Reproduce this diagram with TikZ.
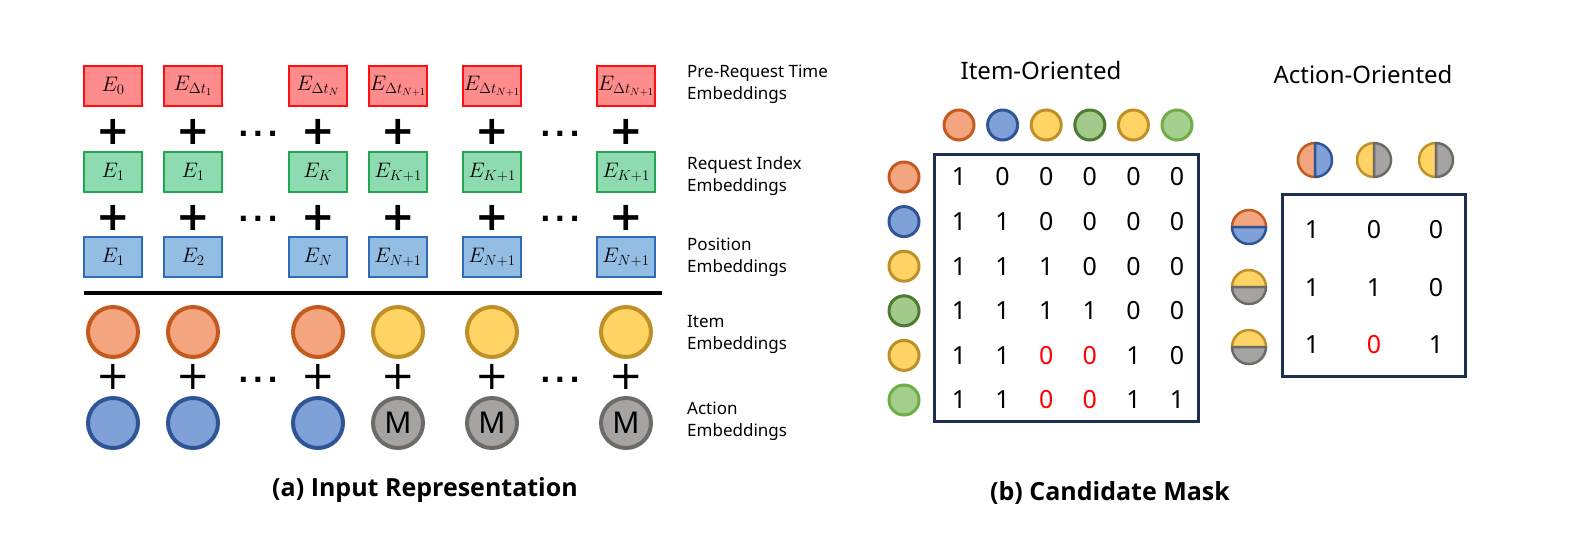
\RequirePackage{fix-cm}
\documentclass[tikz,border=0pt]{standalone}
\usepackage{fontspec}
\setmainfont{Noto Sans}
\newfontfamily\djv{DejaVu Sans}
\newfontfamily\osans{Open Sans}
\definecolor{rF}{HTML}{FF8C8C}
\definecolor{rD}{HTML}{FF1010}
\definecolor{gF}{HTML}{8FDBB1}
\definecolor{gD}{HTML}{22A652}
\definecolor{bF}{HTML}{93BDE2}
\definecolor{bD}{HTML}{2E6DB4}
\definecolor{orF}{HTML}{F2A57E}
\definecolor{orD}{HTML}{C55A1F}
\definecolor{blF}{HTML}{7FA1D7}
\definecolor{blD}{HTML}{2F5597}
\definecolor{yeF}{HTML}{FFD464}
\definecolor{yeD}{HTML}{BF9028}
\definecolor{dgF}{HTML}{A2CA8B}
\definecolor{dgD}{HTML}{4F7A33}
\definecolor{lgF}{HTML}{A6CE8C}
\definecolor{lgD}{HTML}{70AD47}
\definecolor{grF}{HTML}{A6A3A3}
\definecolor{grD}{HTML}{6E6A6A}
\definecolor{navy}{HTML}{1F2F4F}
\definecolor{mred}{HTML}{FF0000}
\begin{document}
\begin{tikzpicture}[x=1pt,y=-1pt,
  ebox/.style={line width=2pt, minimum width=58pt, minimum height=40pt, inner sep=0pt, font=\fontsize{21}{21}\selectfont},
  rbox/.style={ebox, draw=rD, fill=rF},
  gbox/.style={ebox, draw=gD, fill=gF},
  bbox/.style={ebox, draw=bD, fill=bF},
  plusA/.style={inner sep=0pt, font=\djv\bfseries\fontsize{40}{40}\selectfont},
  plusB/.style={inner sep=0pt, font=\djv\fontsize{40}{40}\selectfont},
  dotn/.style={inner sep=0pt, font=\djv\bfseries\fontsize{28}{28}\selectfont},
  bigc/.style={circle, minimum size=50pt, inner sep=0pt, line width=4pt, font=\fontsize{30}{30}\selectfont},
  smallc/.style={circle, minimum size=30pt, inner sep=0pt, line width=3pt},
  halfl/.style={line width=2.5pt, line join=round},
  lab/.style={anchor=west, align=left, inner sep=0pt, font=\fontsize{17}{22}\selectfont},
  ttl/.style={inner sep=0pt, font=\osans\bfseries\fontsize{25}{25}\selectfont},
  subttl/.style={inner sep=0pt, font=\fontsize{24}{24}\selectfont},
  mval/.style={inner sep=0pt, font=\fontsize{25}{25}\selectfont},
  mbox/.style={draw=navy, line width=3pt, inner sep=0pt}
]
\useasboundingbox (0,0) rectangle (1578,544);

% ---------- (a) Input representation ----------
\foreach \i/\x/\labR/\labG/\labB in {
 1/113/{E_0}/{E_1}/{E_1},
 2/193/{E_{\Delta t_1}}/{E_1}/{E_2},
 3/318/{E_{\Delta t_N}}/{E_K}/{E_N},
 4/398/{E_{\Delta t_{N+1}}}/{E_{K+1}}/{E_{N+1}},
 5/492/{E_{\Delta t_{N+1}}}/{E_{K+1}}/{E_{N+1}},
 6/626/{E_{\Delta t_{N+1}}}/{E_{K+1}}/{E_{N+1}}}{
  \node[rbox] (r\i) at (\x,86) {$\labR$};
  \node[gbox] (g\i) at (\x,172) {$\labG$};
  \node[bbox] (b\i) at (\x,257) {$\labB$};
  \node[plusA] (pa\i) at (\x,132) {+};
  \node[plusA] (pb\i) at (\x,218) {+};
  \node[plusB] (pc\i) at (\x,377) {+};
}
\foreach \i/\x/\cc in {1/113/or,2/193/or,3/318/or,4/398/ye,5/492/ye,6/626/ye}
  \node[bigc, fill=\cc F, draw=\cc D] (it\i) at (\x,332) {};
\foreach \i/\x in {1/113,2/193,3/318}
  \node[bigc, fill=blF, draw=blD] (ac\i) at (\x,423) {};
\foreach \i/\x in {4/398,5/492,6/626}
  \node[bigc, fill=grF, draw=grD] (ac\i) at (\x,423) {M};

\foreach \n/\x/\y in {1/258/134,2/258/219,3/258/380,4/560/134,5/560/219,6/560/380}
  \node[dotn] (dt\n) at (\x,\y) {.\kern4pt.\kern4pt.};

\coordinate (hl1) at (84,293);
\coordinate (hl2) at (662,293);
\draw[line width=3.5pt] (hl1) -- (hl2);

\node[lab] (l1) at (687,84) {Pre-Request Time\\Embeddings};
\node[lab] (l2) at (687,176) {Request Index\\Embeddings};
\node[lab] (l3) at (687,257) {Position\\Embeddings};
\node[lab] (l4) at (687,334) {Item\\Embeddings};
\node[lab] (l5) at (687,421) {Action\\Embeddings};

\node[ttl] (ta) at (425,490) {(a) Input Representation};

% ---------- (b) Candidate mask : item-oriented ----------
\node[subttl] (tio) at (1041,70) {Item-Oriented};
\node[mbox, minimum width=264pt, minimum height=267pt] (mA) at (1066,287.5) {};
\foreach \cc [count=\k] in {or,bl,ye,dg,ye,lg}{
  \node[smallc, fill=\cc F, draw=\cc D] (ti\k) at ({959+(\k-1)*43.6},125) {};
  \node[smallc, fill=\cc F, draw=\cc D] (li\k) at (904,{177+(\k-1)*44.6}) {};
}
\foreach \vals [count=\r] in {
  {1,0,0,0,0,0},
  {1,1,0,0,0,0},
  {1,1,1,0,0,0},
  {1,1,1,1,0,0},
  {1,1,{\textcolor{mred}{0}},{\textcolor{mred}{0}},1,0},
  {1,1,{\textcolor{mred}{0}},{\textcolor{mred}{0}},1,1}}{
  \foreach \v [count=\c] in \vals
    \node[mval] (a\r-\c) at ({959+(\c-1)*43.6},{177+(\r-1)*44.6}) {\v};
}

% ---------- (b) Candidate mask : action-oriented ----------
\node[subttl] (tao) at (1363,74) {Action-Oriented};
\node[mbox, minimum width=183pt, minimum height=182pt] (mB) at (1373.5,285) {};
\foreach \n/\x/\a/\b in {1/1315/or/bl,2/1374/ye/gr,3/1436/ye/gr}{
  \coordinate (th\n) at (\x,160);
  \filldraw[halfl, fill=\a F, draw=\a D] (th\n) ++(90:17) arc[start angle=90, end angle=270, radius=17] -- cycle;
  \filldraw[halfl, fill=\b F, draw=\b D] (th\n) ++(-90:17) arc[start angle=-90, end angle=90, radius=17] -- cycle;
}
\foreach \n/\y/\a/\b in {1/227/or/bl,2/287/ye/gr,3/347/ye/gr}{
  \coordinate (lh\n) at (1249,\y);
  \filldraw[halfl, fill=\a F, draw=\a D] (lh\n) ++(180:17) arc[start angle=180, end angle=360, radius=17] -- cycle;
  \filldraw[halfl, fill=\b F, draw=\b D] (lh\n) ++(0:17) arc[start angle=0, end angle=180, radius=17] -- cycle;
}
\foreach \vals [count=\r] in {
  {1,0,0},
  {1,1,0},
  {1,{\textcolor{mred}{0}},1}}{
  \foreach \v [count=\c] in \vals
    \node[mval] (b\r-\c) at ({1312+(\c-1)*62},{230+(\r-1)*57.5}) {\v};
}

\node[ttl] (tb) at (1110,493) {(b) Candidate Mask};
\end{tikzpicture}
\end{document}
